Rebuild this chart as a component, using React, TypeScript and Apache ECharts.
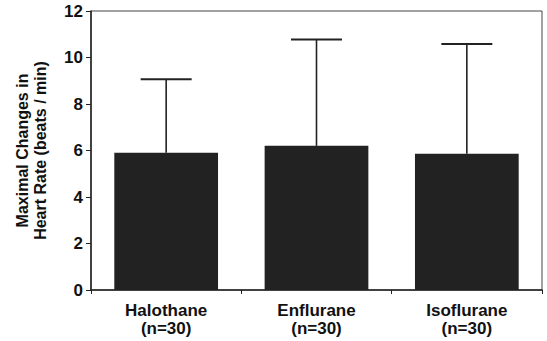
import React, { useEffect, useRef } from "react";
import * as echarts from "echarts";

const categories = ["Halothane\n(n=30)", "Enflurane\n(n=30)", "Isoflurane\n(n=30)"];
const meanValues = [5.9, 6.2, 5.86];
const upperValues = [9.06, 10.77, 10.58];
const yTicks = { min: 0, max: 12, interval: 2 };

export default function App() {
  const ref = useRef<HTMLDivElement>(null);
  useEffect(() => {
    if (!ref.current) return;
    const chart = echarts.init(ref.current, null, { renderer: "svg" });
    const font = "'Liberation Sans', Arial, sans-serif";
    const errData = categories.map((_, i) => [i, meanValues[i], upperValues[i]]);
    chart.setOption({
      animation: false,
      backgroundColor: "#fff",
      grid: {
        left: 91,
        right: 5,
        top: 11,
        bottom: 51,
        show: true,
        borderColor: "#444",
        borderWidth: 1,
        backgroundColor: "transparent",
      },
      xAxis: {
        type: "category",
        data: categories,
        boundaryGap: true,
        axisLine: { show: true, lineStyle: { color: "#222", width: 1.5 } },
        axisTick: { show: true, length: 4, alignWithLabel: false, lineStyle: { color: "#222" } },
        axisLabel: {
          margin: 11,
          color: "#111",
          fontFamily: font,
          fontWeight: "bold",
          fontSize: 17,
          lineHeight: 18,
        },
        splitLine: { show: false },
      },
      yAxis: {
        type: "value",
        min: yTicks.min,
        max: yTicks.max,
        interval: yTicks.interval,
        name: "Maximal Changes in\nHeart Rate (beats / min)",
        nameLocation: "middle",
        nameGap: 42,
        nameTextStyle: {
          color: "#111",
          fontFamily: font,
          fontWeight: "bold",
          fontSize: 16,
          lineHeight: 18,
        },
        axisLine: { show: true, lineStyle: { color: "#222", width: 1.5 } },
        axisTick: { show: true, length: 5, lineStyle: { color: "#222" } },
        axisLabel: {
          margin: 8,
          color: "#111",
          fontFamily: font,
          fontWeight: "bold",
          fontSize: 17,
        },
        splitLine: { show: false },
      },
      series: [
        {
          type: "bar",
          data: meanValues,
          barWidth: "69%",
          itemStyle: { color: "#222" },
          z: 2,
        },
        {
          type: "custom",
          data: errData,
          z: 3,
          renderItem: (params: any, api: any) => {
            const idx = api.value(0);
            const base = api.coord([idx, api.value(1)]);
            const top = api.coord([idx, api.value(2)]);
            const half = 25.5;
            return {
              type: "group",
              children: [
                {
                  type: "line",
                  shape: { x1: base[0], y1: base[1], x2: top[0], y2: top[1] },
                  style: { stroke: "#222", lineWidth: 1.6 },
                },
                {
                  type: "line",
                  shape: { x1: top[0] - half, y1: top[1], x2: top[0] + half, y2: top[1] },
                  style: { stroke: "#222", lineWidth: 2 },
                },
              ],
            };
          },
        },
      ],
    });
    return () => chart.dispose();
  }, []);
  return <div ref={ref} style={{ width: 547, height: 341, position: "absolute", left: 0, top: 0 }} />;
}
